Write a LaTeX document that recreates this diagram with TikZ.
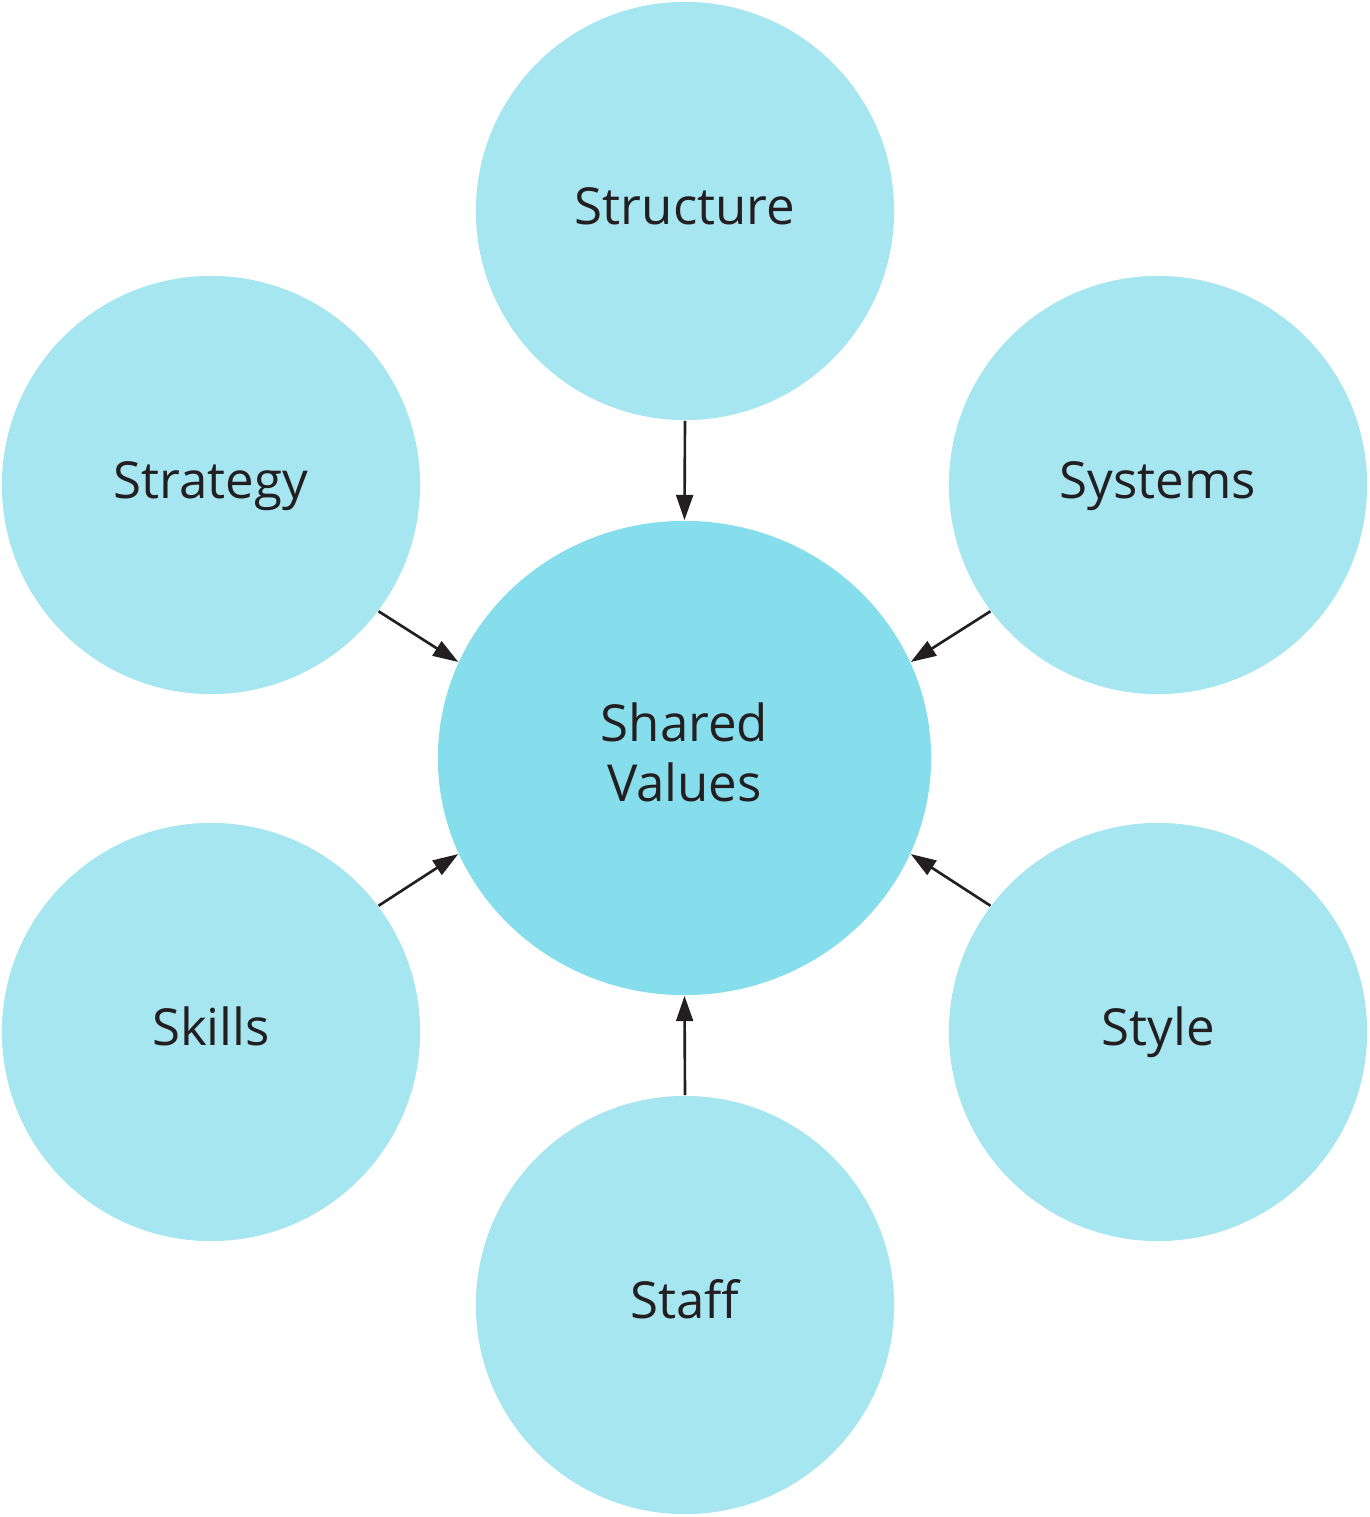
\documentclass[tikz,border=0pt]{standalone}
\usepackage{fontspec}
\setmainfont{Open Sans}
\usetikzlibrary{arrows.meta,shapes.geometric}
\definecolor{outerfill}{HTML}{A5E6F1}
\definecolor{innerfill}{HTML}{86DEEC}
\definecolor{ink}{HTML}{231F20}
\tikzset{
  outer/.style={circle, fill=outerfill, minimum size=4.18cm, inner sep=0pt, text=ink, text height=7.4pt, text depth=0pt, font=\fontsize{14.5}{17}\selectfont},
  inner/.style={ellipse, fill=innerfill, minimum width=4.93cm, minimum height=4.74cm, inner sep=0pt, text=ink, align=center, text depth=3.4pt, font=\fontsize{14.5}{17}\selectfont},
  conn/.style={draw=ink, line width=0.75pt, -{Triangle[length=7.2pt,width=4.8pt]}}
}
\begin{document}
\begin{tikzpicture}[x=0.01cm,y=-0.01cm]
\useasboundingbox (0,0) rectangle (1370,1517);
\node[inner] (shared) at (684.5,758) {Shared\\Values};
\node[outer] (structure) at (685,211) {Structure};
\node[outer] (strategy) at (211,485) {Strategy};
\node[outer] (systems) at (1158,485) {Systems};
\node[outer] (skills) at (211,1032) {Skills};
\node[outer] (style) at (1158,1032) {Style};
\node[outer] (staff) at (685,1305) {Staff};
\draw[conn] (structure.south) -- (shared.north);
\draw[conn] (staff.north) -- (shared.south);
\draw[conn] (strategy.-37) -- (shared.157);
\draw[conn] (systems.-143) -- (shared.23);
\draw[conn] (skills.37) -- (shared.-157);
\draw[conn] (style.143) -- (shared.-23);
\end{tikzpicture}
\end{document}
